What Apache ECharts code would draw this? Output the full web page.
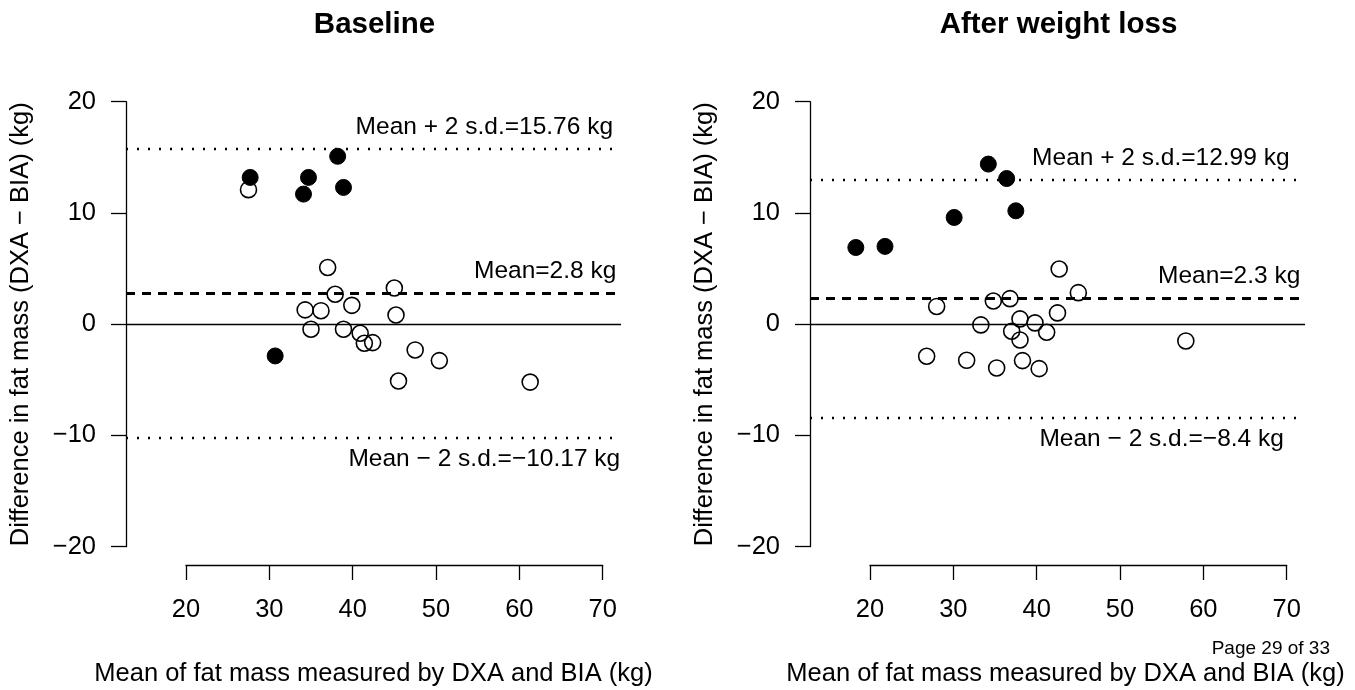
<!DOCTYPE html>
<html>
<head>
<meta charset="utf-8">
<script src="https://cdn.jsdelivr.net/npm/echarts@6/dist/echarts.min.js"></script>
<style>
  html, body { margin: 0; padding: 0; background: #fff; }
  #chart { width: 1355px; height: 690px; }
</style>
</head>
<body>
<div id="chart"></div>
<script>
// panel titles and axis text
const panelTitles = ['Baseline', 'After weight loss'];
const xTitle = 'Mean of fat mass measured by DXA and BIA (kg)';
const yTitle = 'Difference in fat mass (DXA \u2212 BIA) (kg)';
const xTicks = [20, 30, 40, 50, 60, 70];
const yTicks = [-20, -10, 0, 10, 20];

// baseline: open circles / filled circles  [mean, difference]
const baseOpen = [
  [27.5, 12.1], [37.0, 5.1], [37.9, 2.7], [45.0, 3.26], [34.3, 1.29], [36.2, 1.22],
  [39.9, 1.7], [45.2, 0.83], [35.0, -0.45], [38.9, -0.45], [40.9, -0.81], [41.4, -1.71],
  [42.4, -1.65], [47.5, -2.31], [50.4, -3.27], [45.5, -5.1], [61.3, -5.2]
];
const baseFilled = [
  [27.7, 13.2], [34.7, 13.2], [34.1, 11.7], [38.2, 15.1], [38.9, 12.3], [30.7, -2.85]
];

// after weight loss
const afterOpen = [
  [42.7, 4.97], [45.0, 2.84], [28.0, 1.6], [34.8, 2.09], [36.8, 2.3], [42.5, 1.02],
  [33.3, -0.06], [38.0, 0.48], [39.8, 0.12], [37.0, -0.63], [41.2, -0.72], [38.0, -1.41],
  [57.9, -1.5], [26.8, -2.88], [31.6, -3.24], [38.3, -3.27], [35.2, -3.93], [40.3, -3.99]
];
const afterFilled = [
  [18.3, 6.9], [21.8, 7.0], [30.1, 9.6], [34.2, 14.4], [36.4, 13.1], [37.5, 10.2]
];

// reference lines: mean, mean + 2 s.d., mean - 2 s.d.
const baseLimits = [2.8, 15.76, -10.17];
const afterLimits = [2.3, 12.99, -8.4];

// annotation text and where it sits (x in data units)
const baseNotes = ['Mean=2.8 kg', 'Mean + 2 s.d.=15.76 kg', 'Mean \u2212 2 s.d.=\u221210.17 kg'];
const afterNotes = ['Mean=2.3 kg', 'Mean + 2 s.d.=12.99 kg', 'Mean \u2212 2 s.d.=\u22128.4 kg'];
const baseNoteX = [63.1, 55.8, 55.8];
const afterNoteX = [63.1, 54.9, 55.0];

const FONT = 'Liberation Sans, Arial, sans-serif';
const chart = echarts.init(document.getElementById('chart'));

const grids = [], xAxes = [], yAxes = [], series = [], titles = [];

function addPanel(p, left, openPts, filledPts, limits, notes, noteX, xNamePad) {
  const g = grids.length;
  const pxPerUnit = 495 / 59.4;
  const nameStyle = { fontSize: 25.5, fontFamily: FONT, color: '#000' };
  // data grid (R plot region, xlim 15..70 and ylim -20..20 with 4% padding)
  grids.push({ left: left, top: 84, width: 495, height: 480.5, containLabel: false, outerBoundsMode: 'none' });
  xAxes.push({
    gridIndex: g, type: 'value', min: 12.8, max: 72.2,
    axisLine: { show: false }, axisTick: { show: false }, axisLabel: { show: false },
    splitLine: { show: false },
    name: xTitle, nameLocation: 'middle', nameGap: 96,
    nameTextStyle: Object.assign({ padding: [0, 0, 0, xNamePad] }, nameStyle)
  });
  yAxes.push({
    gridIndex: g, type: 'value', min: -21.6, max: 21.6,
    axisLine: { show: false }, axisTick: { show: false }, axisLabel: { show: false },
    splitLine: { show: false },
    name: yTitle, nameLocation: 'middle', nameGap: 92, nameRotate: 90, nameTextStyle: nameStyle
  });

  // y axis grid: only spans -20..20
  grids.push({ left: left, top: 101.7, width: 495, height: 445, containLabel: false, outerBoundsMode: 'none' });
  xAxes.push({ gridIndex: g + 1, type: 'value', show: false });
  yAxes.push({
    gridIndex: g + 1, type: 'value', min: -20, max: 20, interval: 10,
    axisLine: { show: true, lineStyle: { color: '#000', width: 1.3 } },
    axisTick: { show: true, inside: false, length: 15, lineStyle: { color: '#000', width: 1.3 } },
    axisLabel: { margin: 30, fontSize: 25.5, fontFamily: FONT, color: '#000',
      formatter: v => String(v).replace('-', '\u2212') },
    splitLine: { show: false }
  });

  // x axis grid: only spans 20..70
  const x20 = left + (20 - 12.8) * pxPerUnit;
  grids.push({ left: x20, top: 564, width: 50 * pxPerUnit, height: 1, containLabel: false, outerBoundsMode: 'none' });
  xAxes.push({
    gridIndex: g + 2, type: 'value', min: 20, max: 70, interval: 10, position: 'bottom',
    axisLine: { show: true, onZero: false, lineStyle: { color: '#000', width: 1.3 } },
    axisTick: { show: true, inside: false, length: 15, lineStyle: { color: '#000', width: 1.3 } },
    axisLabel: { margin: 32, fontSize: 25.5, fontFamily: FONT, color: '#000' },
    splitLine: { show: false }
  });
  yAxes.push({ gridIndex: g + 2, type: 'value', show: false });

  series.push({
    type: 'scatter', xAxisIndex: g, yAxisIndex: g, data: openPts,
    symbol: 'circle', symbolSize: 16, silent: true,
    itemStyle: { color: 'rgba(0,0,0,0)', borderColor: '#000', borderWidth: 1.6, opacity: 1 },
    markLine: {
      silent: true, symbol: 'none', label: { show: false },
      data: [
        { yAxis: 0, lineStyle: { type: 'solid', width: 1.3, color: '#000', opacity: 1 } },
        { yAxis: limits[0], lineStyle: { type: [9, 7], width: 2.8, color: '#000', opacity: 1 } },
        { yAxis: limits[1], lineStyle: { type: [2, 9], width: 2.4, color: '#000', opacity: 1 } },
        { yAxis: limits[2], lineStyle: { type: [2, 9], width: 2.4, color: '#000', opacity: 1 } }
      ]
    }
  });
  series.push({
    type: 'scatter', xAxisIndex: g, yAxisIndex: g, data: filledPts,
    symbol: 'circle', symbolSize: 16, silent: true,
    itemStyle: { color: '#000', borderColor: '#000', borderWidth: 1, opacity: 1 }
  });
  // annotation labels attached to the reference lines
  const offs = [-22, -22, 22];
  series.push({
    type: 'scatter', xAxisIndex: g, yAxisIndex: g, silent: true,
    symbolSize: 1, itemStyle: { color: 'rgba(0,0,0,0)', opacity: 1 },
    data: notes.map((t, i) => ({
      value: [noteX[i], limits[i]], name: t,
      label: { show: true, position: 'inside', offset: [0, offs[i]], formatter: '{b}',
        fontSize: 24.5, fontFamily: FONT, color: '#000', opacity: 1 }
    }))
  });

  titles.push({
    text: panelTitles[p], left: left + 243.5, top: 5, textAlign: 'center',
    textStyle: { fontSize: 29.5, fontWeight: 'bold', fontFamily: FONT, color: '#000' }
  });
}

addPanel(0, 126, baseOpen, baseFilled, baseLimits, baseNotes, baseNoteX, 0);
addPanel(1, 810, afterOpen, afterFilled, afterLimits, afterNotes, afterNoteX, 16);

chart.setOption({
  backgroundColor: '#fff',
  animation: false,
  title: titles,
  grid: grids,
  xAxis: xAxes,
  yAxis: yAxes,
  series: series,
  graphic: [{
    type: 'text', right: 25, top: 639,
    style: { text: 'Page 29 of 33', fontSize: 19, fontFamily: FONT, fill: '#000' }
  }]
});
</script>
</body>
</html>
